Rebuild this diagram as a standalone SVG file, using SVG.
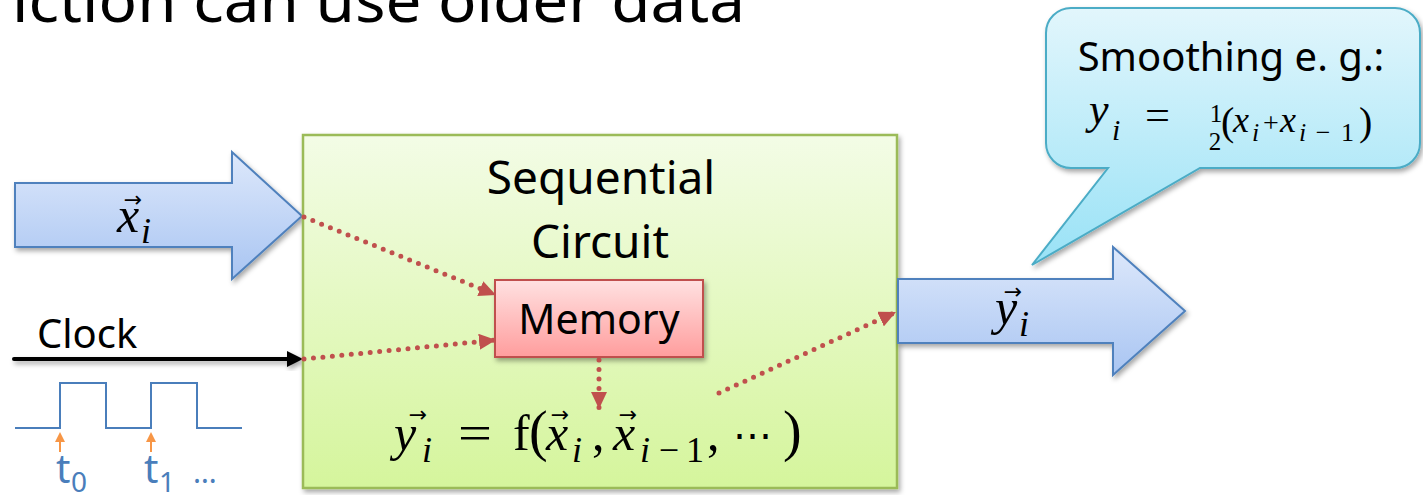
<svg xmlns="http://www.w3.org/2000/svg" width="1423" height="495" viewBox="0 0 1423 495">
<style>
  .sans{font-family:"Noto Sans","Open Sans","Liberation Sans",sans-serif;fill:#000}
  .mi{font-family:"Liberation Serif","DejaVu Serif",serif;font-style:italic;fill:#000}
  .mu{font-family:"Liberation Serif","DejaVu Serif",serif;fill:#000}
  .vec{font-family:"DejaVu Sans",sans-serif;font-size:22px;fill:#000;text-anchor:middle}
  .blue-arrow{fill:url(#gBlue);stroke:#4f81bd;stroke-width:2;filter:url(#shadow)}
  .dot{fill:none;stroke:#c0504d;stroke-width:5;stroke-linecap:round;stroke-dasharray:0 9.5;marker-end:url(#redHead)}
  .tlab{font-family:"Noto Sans","Open Sans",sans-serif;fill:#4a7ebb}
</style>
<defs>
  <linearGradient id="gBlue" x1="0" y1="0" x2="0" y2="1">
    <stop offset="0" stop-color="#dde8fb"/>
    <stop offset="1" stop-color="#a9c5f2"/>
  </linearGradient>
  <linearGradient id="gGreen" x1="0" y1="0" x2="0" y2="1">
    <stop offset="0" stop-color="#f3fce6"/>
    <stop offset="1" stop-color="#d5f59c"/>
  </linearGradient>
  <linearGradient id="gRed" x1="0" y1="0" x2="0" y2="1">
    <stop offset="0" stop-color="#ffe1e1"/>
    <stop offset="1" stop-color="#ff9d9d"/>
  </linearGradient>
  <linearGradient id="gCyan" x1="0" y1="0" x2="0" y2="1">
    <stop offset="0" stop-color="#e2f6fc"/>
    <stop offset="1" stop-color="#99e2f6"/>
  </linearGradient>
  <filter id="shadow" x="-10%" y="-10%" width="125%" height="130%">
    <feDropShadow dx="2" dy="3" stdDeviation="2.5" flood-color="#000" flood-opacity="0.35"/>
  </filter>
  <marker id="redHead" markerUnits="userSpaceOnUse" markerWidth="18" markerHeight="16" refX="17" refY="8" orient="auto">
    <path d="M0,0 L17,8 L0,16 z" fill="#c0504d"/>
  </marker>
</defs>

<rect width="1423" height="495" fill="#fff"/>

<g id="title">
  <text class="sans" x="12" y="22" font-size="60" textLength="733" lengthAdjust="spacingAndGlyphs">iction can use older data</text>
</g>

<g id="input-arrow">
  <path class="blue-arrow" d="M15,183 H232 V152 L302,216 L232,279 V247 H15 Z"/>
  <text class="mi" x="117" y="232" font-size="50">x</text>
  <text class="vec" x="133" y="207">→</text>
  <text class="mi" x="141" y="243" font-size="36">i</text>
</g>

<g id="clock">
  <text class="sans" x="37" y="348" font-size="40">Clock</text>
  <g filter="url(#shadow)">
    <line x1="14" y1="359" x2="290" y2="359" stroke="#000" stroke-width="4" stroke-linecap="round"/>
    <path d="M287,351 L303,359 L287,367 z" fill="#000"/>
  </g>
</g>

<g id="clock-wave">
  <polyline points="15,428 60,428 60,383 106,383 106,428 151,428 151,383 197,383 197,428 242,428" fill="none" stroke="#4a7ebb" stroke-width="2"/>
  <line x1="60" y1="452" x2="60" y2="440" stroke="#f79646" stroke-width="2"/>
  <path d="M55,442 L60,432 L65,442 z" fill="#f79646"/>
  <line x1="151" y1="452" x2="151" y2="440" stroke="#f79646" stroke-width="2"/>
  <path d="M146,442 L151,432 L156,442 z" fill="#f79646"/>
  <text class="tlab" x="56" y="483" font-size="40">t</text>
  <text class="tlab" x="71" y="492" font-size="28">0</text>
  <text class="tlab" x="144" y="483" font-size="40">t</text>
  <text class="tlab" x="159" y="492" font-size="28">1</text>
  <text class="tlab" x="193" y="483" font-size="30">…</text>
</g>

<g id="seq-circuit">
  <rect x="303" y="135" width="594" height="353" fill="url(#gGreen)" stroke="#9bbb59" stroke-width="2.5" filter="url(#shadow)"/>
  <text class="sans" x="601" y="194" font-size="46" text-anchor="middle">Sequential</text>
  <text class="sans" x="600" y="258" font-size="46" text-anchor="middle">Circuit</text>
</g>

<g id="memory">
  <rect x="495" y="280" width="208" height="77" fill="url(#gRed)" stroke="#c0504d" stroke-width="2" filter="url(#shadow)"/>
  <text class="sans" x="599" y="334" font-size="41" text-anchor="middle">Memory</text>
</g>

<g id="formula">
  <text class="mi" x="394" y="450" font-size="50">y</text>
  <text class="vec" x="418" y="422">→</text>
  <text class="mi" x="422" y="462" font-size="36">i</text>
  <text class="mu" x="458" y="450" font-size="50" textLength="34" lengthAdjust="spacingAndGlyphs">=</text>
  <text class="mu" x="513" y="450" font-size="50">f</text>
  <text class="mu" x="529" y="450" font-size="56">(</text>
  <text class="mi" x="546" y="450" font-size="50">x</text>
  <text class="vec" x="560" y="422">→</text>
  <text class="mi" x="572" y="462" font-size="36">i</text>
  <text class="mu" x="592" y="450" font-size="50">,</text>
  <text class="mi" x="613" y="450" font-size="50">x</text>
  <text class="vec" x="628" y="422">→</text>
  <text class="mi" x="640" y="462" font-size="36">i</text>
  <text class="mu" x="669" y="462" font-size="36" text-anchor="middle">−</text>
  <text class="mu" x="686" y="462" font-size="36">1</text>
  <text class="mu" x="707" y="450" font-size="50">,</text>
  <text class="mu" x="733" y="450" font-size="44" textLength="39" lengthAdjust="spacingAndGlyphs">⋯</text>
  <text class="mu" x="783" y="450" font-size="56">)</text>
</g>

<g id="output-arrow">
  <path class="blue-arrow" d="M898,279 H1113 V247 L1185,311 L1113,375 V343 H898 Z"/>
  <text class="mi" x="995" y="324" font-size="50">y</text>
  <text class="vec" x="1013" y="299">→</text>
  <text class="mi" x="1019" y="336" font-size="36">i</text>
</g>

<g id="callout">
  <path d="M1071,8 H1395 A25,25 0 0 1 1420,33 V143 A25,25 0 0 1 1395,168 H1200 L1032,265 L1108,168 H1071 A25,25 0 0 1 1046,143 V33 A25,25 0 0 1 1071,8 Z" fill="url(#gCyan)" stroke="#4bacc6" stroke-width="2" filter="url(#shadow)"/>
  <text class="sans" x="1231" y="71" font-size="40" text-anchor="middle">Smoothing e. g.:</text>
  <text class="mi" x="1089" y="124" font-size="44">y</text>
  <text class="mi" x="1112" y="140" font-size="30">i</text>
  <text class="mu" x="1145" y="129" font-size="42" textLength="25" lengthAdjust="spacingAndGlyphs">=</text>
  <text class="mu" x="1216" y="122" font-size="25" text-anchor="middle">1</text>
  <text class="mu" x="1215" y="150" font-size="25" text-anchor="middle">2</text>
  <text class="mu" x="1221" y="135" font-size="40">(</text>
  <text class="mi" x="1233" y="132" font-size="36">x</text>
  <text class="mi" x="1252" y="141" font-size="26">i</text>
  <text class="mu" x="1271" y="132" font-size="28" text-anchor="middle">+</text>
  <text class="mi" x="1280" y="132" font-size="36">x</text>
  <text class="mi" x="1299" y="141" font-size="26">i</text>
  <text class="mu" x="1323" y="141" font-size="26" text-anchor="middle">−</text>
  <text class="mu" x="1341" y="141" font-size="26">1</text>
  <text class="mu" x="1359" y="135" font-size="40">)</text>
</g>

<g id="connectors">
  <path class="dot" d="M304,217 L496,295"/>
  <path class="dot" d="M304,359 L496,340"/>
  <path class="dot" d="M599,360 L599,409"/>
  <path class="dot" d="M719,393 L896,312"/>
</g>
</svg>
